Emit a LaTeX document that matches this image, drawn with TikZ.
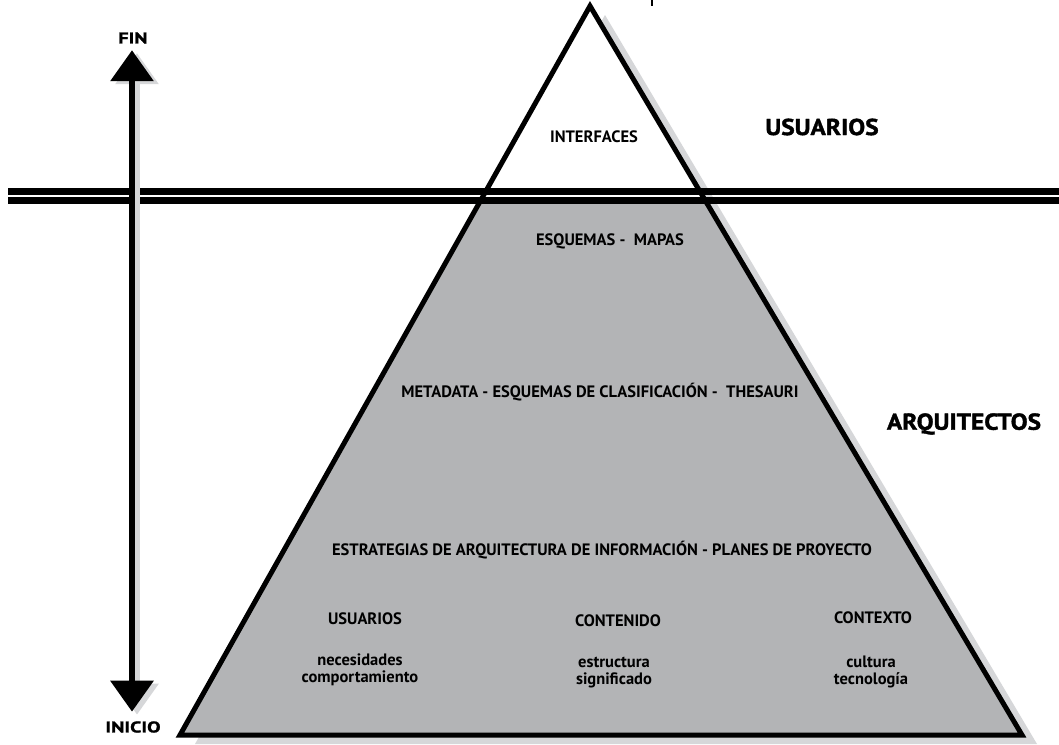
\documentclass[tikz,border=0pt]{standalone}
\usepackage{fontspec}
\setmainfont{PT Sans}
\newfontfamily\heavyfont{PT Sans}[FakeStretch=1.1, BoldFeatures={FakeBold=1.6, FakeStretch=1.1}]
\newfontfamily\endfont{PT Sans}[FakeStretch=1.3, BoldFeatures={FakeBold=1.4, FakeStretch=1.3}]
\usepackage{xcolor}
\definecolor{pyramidgray}{RGB}{179,180,182}
\definecolor{shadowgray}{RGB}{214,215,217}
\usepackage{tikz}
\usetikzlibrary{arrows.meta, calc}

\newcommand{\pyramidpath}{(590,6) -- (1022,735) -- (180,735) -- cycle}

\begin{document}
\begin{tikzpicture}[
        x=1pt, y=-1pt,
        layer/.style={font=\bfseries\fontsize{16.5}{17}\selectfont, inner sep=0pt, align=center},
        role/.style={font=\heavyfont\bfseries\fontsize{23}{25}\selectfont, inner sep=0pt},
        endlabel/.style={font=\endfont\bfseries\fontsize{15.5}{17}\selectfont, inner sep=0pt},
        timeline/.style={{Triangle[length=31pt,width=42pt]}-{Triangle[length=31pt,width=42pt]}, line width=6.5pt}
    ]
        \useasboundingbox (0,0) rectangle (1059,744);

        \fill[shadowgray, shift={(15,9)}] \pyramidpath;
        \fill[white] \pyramidpath;
        \begin{scope}
            \clip \pyramidpath;
            \fill[pyramidgray] (0,200) rectangle (1059,744);
        \end{scope}

        \foreach \y in {191,200.8} {
            \draw[line width=7pt] (8,\y) -- (1059,\y);
        }
        \draw[line width=5pt, line join=miter] \pyramidpath;
        \draw[line width=1.5pt] (652,0) -- (652,6);

        \node[endlabel] (fin) at (133,38) {FIN};
        \node[endlabel] (inicio) at (133,727) {INICIO};
        \draw[timeline, shadowgray] ([xshift=4pt,yshift=-9.5pt]fin.south) -- ([xshift=4pt,yshift=6.5pt]inicio.north);
        \draw[timeline] ([xshift=-1pt,yshift=-6.5pt]fin.south) -- ([xshift=-1pt,yshift=9.5pt]inicio.north);

        \node[role] (usrtop) at (822,127) {USUARIOS};
        \node[role] (arq) at (964,424) {ARQUITECTOS};

        \node[layer] (interfaces) at (594,137) {INTERFACES};
        \node[layer] (esquemas) at (610,241) {ESQUEMAS -~ MAPAS};
        \node[layer] (metadata) at (600,392) {METADATA - ESQUEMAS DE CLASIFICACIÓN -~ THESAURI};
        \node[layer] (estrategias) at (602,550) {ESTRATEGIAS DE ARQUITECTURA DE INFORMACIÓN - PLANES DE PROYECTO};

        \node[layer] (usuarios) at (365,619) {USUARIOS};
        \node[layer] (contenido) at (618,621) {CONTENIDO};
        \node[layer] (contexto) at (873,618) {CONTEXTO};
        \node[layer] (usuariosdet) at (360,670) {necesidades\\comportamiento};
        \node[layer] (contenidodet) at (614,673) {estructura\\significado};
        \node[layer] (contextodet) at (871,672) {cultura\\tecnología};
    \end{tikzpicture}
\end{document}
